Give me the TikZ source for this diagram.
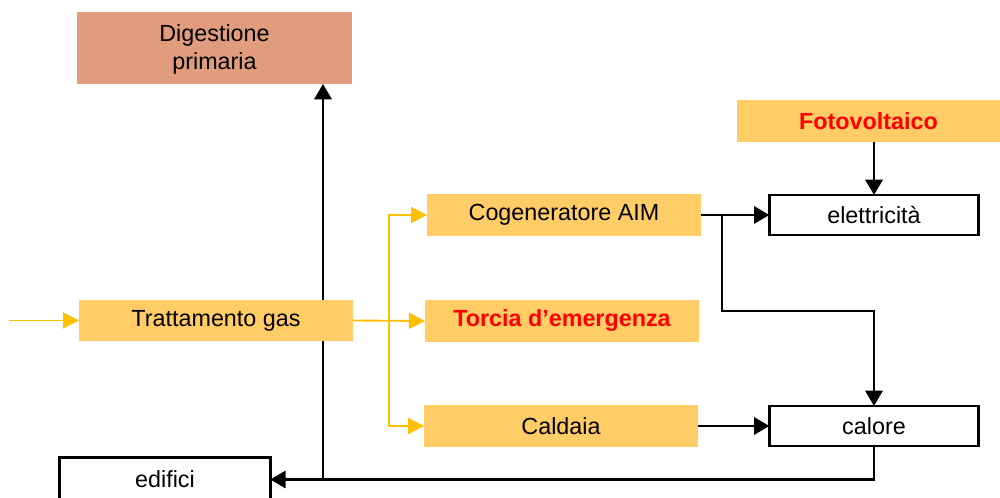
\documentclass[tikz,border=0pt]{standalone}
\usepackage{fontspec}
\setmainfont{Liberation Sans}
\usetikzlibrary{arrows.meta,backgrounds}
\definecolor{boxyellow}{HTML}{FFCC66}
\definecolor{boxsalmon}{HTML}{E09C7C}
\definecolor{gasline}{HTML}{FFC000}
\definecolor{alertred}{HTML}{FF0000}
\begin{document}
\begin{tikzpicture}[x=0.75pt,y=-0.75pt,
  every node/.style={font=\fontsize{17.5}{21}\selectfont, inner sep=0pt, outer sep=0pt},
  yellowbox/.style={fill=boxyellow, minimum width=205.5pt, minimum height=31pt},
  whitebox/.style={draw=black, fill=white, line width=2.2pt, minimum width=157pt, minimum height=30pt},
  alert/.style={text=alertred, font=\fontsize{17.5}{21}\selectfont\bfseries},
  gasflow/.style={draw=gasline, line width=1.4pt, -{Triangle[length=12pt,width=12pt]}},
  flow/.style={draw=black, line width=1.8pt, -{Triangle[length=11.5pt,width=13pt]}}
]
\useasboundingbox (0,0) rectangle (1000,498);

% process blocks
\node[fill=boxsalmon, minimum width=206pt, minimum height=54pt] (dig) at (214.5,48) {};
\node (digtext) at (214.5,49.5) {\parbox{150pt}{\centering Digestione\\primaria}};
\node[yellowbox, alert, minimum width=197pt] (foto) at (868.5,121) {Fotovoltaico};
\node[yellowbox] (cog) at (564,215) {Cogeneratore AIM};
\node[whitebox] (elet) at (874,215) {elettricità};
\node[yellowbox] (tratt) at (216,320.5) {Trattamento gas};
\node[yellowbox, alert] (torcia) at (562,321) {Torcia d’emergenza};
\node[yellowbox] (cald) at (561,426) {Caldaia};
\node[whitebox] (cal) at (874,426) {calore};
\node[whitebox, minimum width=158pt, minimum height=33pt] (edif) at (165,479.5) {edifici};

\coordinate (gasin) at (9,320.5);
\coordinate (split) at (389,320.5);
\coordinate (cogtap) at (722,215);
\coordinate (riser) at (323,479.5);

\begin{scope}[on background layer]
  % biogas distribution
  \draw[gasflow] (gasin) -- (tratt.west);
  \draw[gasflow] (tratt.east) -- (torcia.west);
  \draw[gasflow] (split) |- (cog.west);
  \draw[gasflow] (split) |- (cald.west);
  % energy flows
  \draw[flow] (elet.north |- foto.south) -- (elet.north);
  \draw[flow] (cog.east) -- (elet.west);
  \draw[flow] (cogtap) -- ++(0,96) -| (cal.north);
  \draw[flow] (cald.east) -- (cal.west);
  \draw[flow] (cal.south) |- (edif.east);
  \draw[flow] (riser) -- (riser |- dig.south);
\end{scope}
\end{tikzpicture}
\end{document}
